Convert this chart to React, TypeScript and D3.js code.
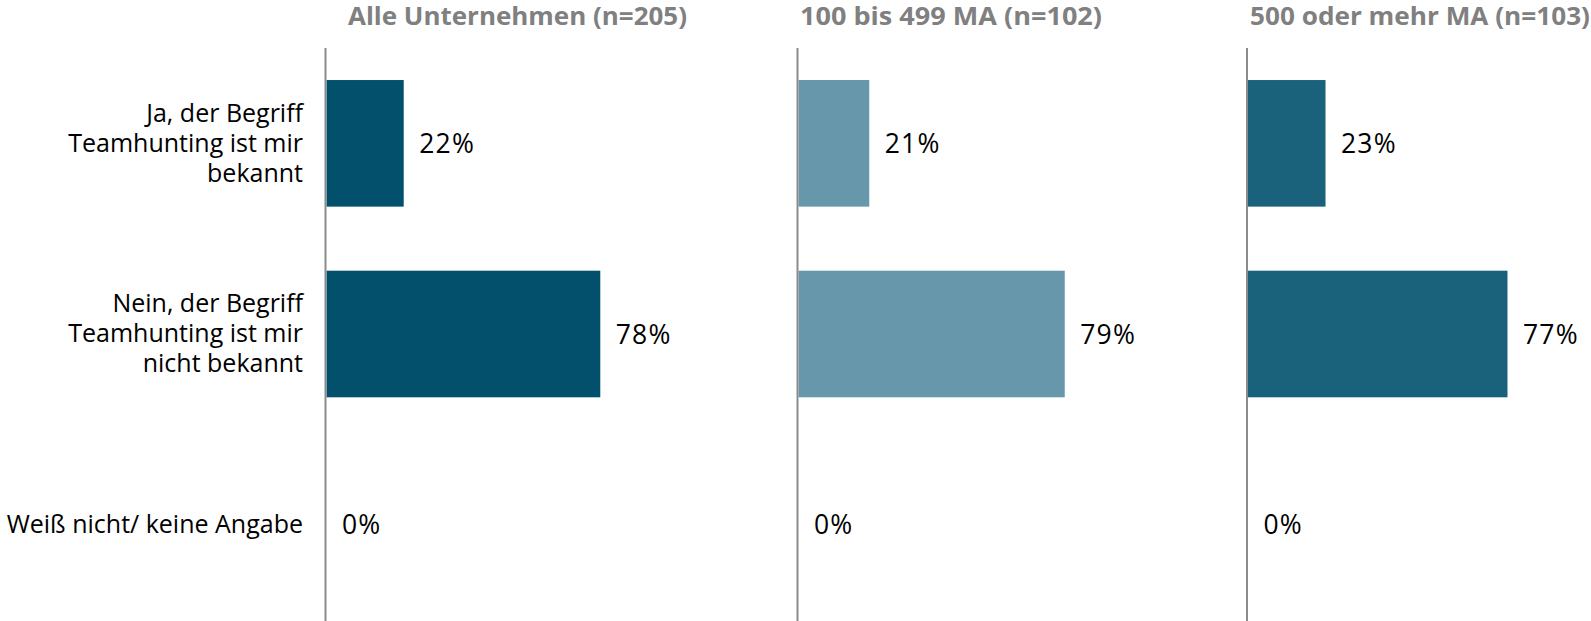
import React from "react";
import * as d3 from "d3";

const categories: string[][] = [
  ["Ja, der Begriff", "Teamhunting ist mir", "bekannt"],
  ["Nein, der Begriff", "Teamhunting ist mir", "nicht bekannt"],
  ["Weiß nicht/ keine Angabe"],
];
const categoryKeys = ["ja", "nein", "weissnicht"];

const panelTitles = ["Alle Unternehmen (n=205)", "100 bis 499 MA (n=102)", "500 oder mehr MA (n=103)"];
const valuesAlle = [22, 78, 0];
const values100bis499 = [21, 79, 0];
const values500plus = [23, 77, 0];
const panelValues = [valuesAlle, values100bis499, values500plus];
const panelColors = ["#03506c", "#6797aa", "#1a627b"];

// layout
const W = 1591;
const H = 621;
const axisXs = [325.5, 797.5, 1247];
const fullWidths = [351, 337, 337];
const titleStarts = [348, 800, 1250];
const titleWidths = [339, 302, 340];
const FONT = "'Open Sans', 'DejaVu Sans', sans-serif";

export default function App() {
  const y = d3
    .scaleBand<string>()
    .domain(categoryKeys)
    .range([48, 620])
    .paddingInner(0.336)
    .paddingOuter(0.168);

  const lineH = 30;

  return (
    <svg
      width={W}
      height={H}
      style={{ position: "absolute", left: 0, top: 0, display: "block", background: "#fff" }}
    >
      {/* category labels */}
      {categories.map((lines, i) => {
        const cy = (y(categoryKeys[i]) as number) + y.bandwidth() / 2;
        const n = lines.length;
        return (
          <text key={i} textAnchor="end" fontFamily={FONT} fontSize={25} fill="#000">
            {lines.map((l, j) => (
              <tspan key={j} x={303} y={cy + (j - (n - 1) / 2) * lineH} dy="0.33em">
                {l}
              </tspan>
            ))}
          </text>
        );
      })}

      {panelValues.map((vals, p) => {
        const x = d3
          .scaleLinear()
          .domain([0, 100])
          .range([axisXs[p] + 1, axisXs[p] + 1 + fullWidths[p]]);
        return (
          <g key={p}>
            <text
              x={titleStarts[p]}
              y={25}
              textLength={titleWidths[p]}
              lengthAdjust="spacingAndGlyphs"
              fontFamily={FONT}
              fontWeight={700}
              fontSize={25}
              fill="#808080"
            >
              {panelTitles[p]}
            </text>
            {vals.map((v, i) => {
              const by = y(categoryKeys[i]) as number;
              return (
                <g key={i}>
                  {v > 0 && (
                    <rect
                      x={x(0)}
                      y={by}
                      width={x(v) - x(0)}
                      height={y.bandwidth()}
                      fill={panelColors[p]}
                    />
                  )}
                  <text
                    x={x(v) + 15.5}
                    y={by + y.bandwidth() / 2}
                    dy="0.36em"
                    fontFamily={FONT}
                    fontSize={26.5}
                    letterSpacing={1.2}
                    fill="#000"
                  >
                    {`${v}%`}
                  </text>
                </g>
              );
            })}
            <line x1={axisXs[p]} x2={axisXs[p]} y1={48} y2={H} stroke="#8c8c8c" strokeWidth={2} />
          </g>
        );
      })}
    </svg>
  );
}
